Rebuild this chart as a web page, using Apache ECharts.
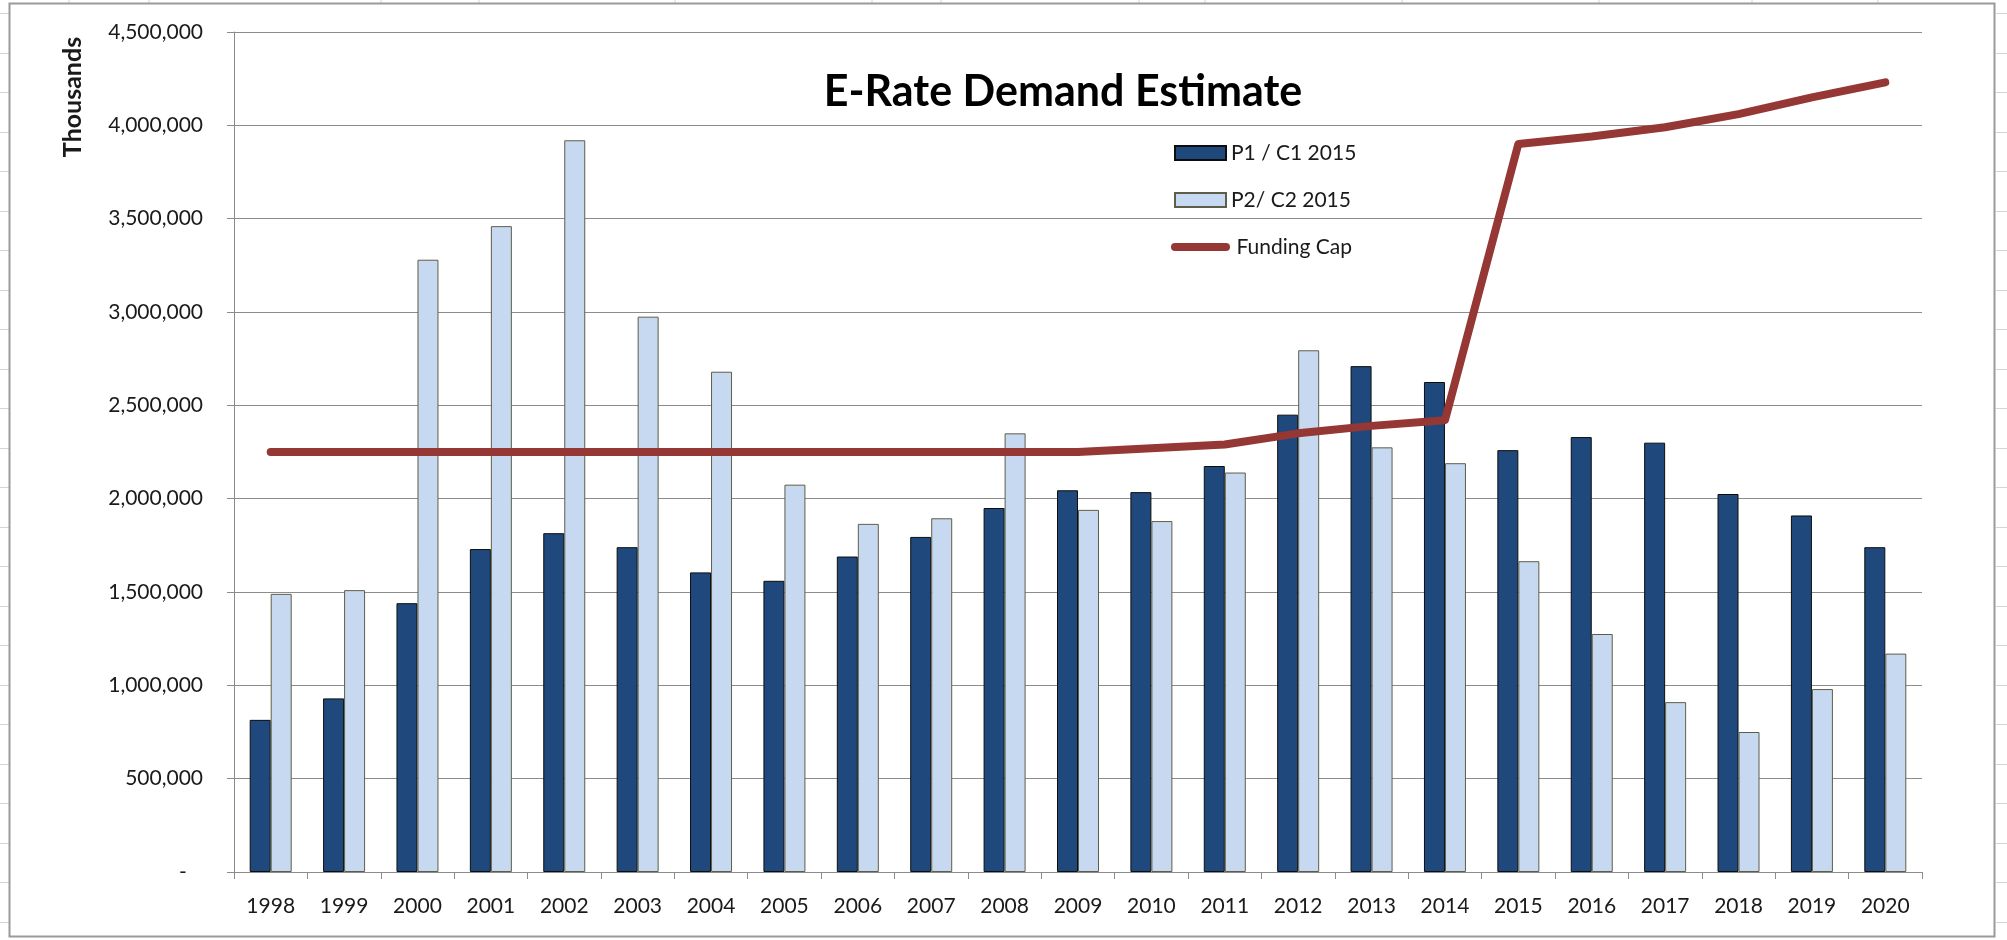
<!DOCTYPE html>
<html>
<head>
<meta charset="utf-8">
<title>E-Rate Demand Estimate</title>
<script src="https://cdn.jsdelivr.net/npm/echarts@6/dist/echarts.min.js"></script>
<style>
  html, body { margin: 0; padding: 0; background: #fff; }
  #chart { width: 2007px; height: 940px; }
</style>
</head>
<body>
<div id="chart"></div>
<script>
// years on the x axis
const years = ['1998', '1999', '2000', '2001', '2002', '2003', '2004', '2005', '2006', '2007', '2008', '2009',
  '2010', '2011', '2012', '2013', '2014', '2015', '2016', '2017', '2018', '2019', '2020'];

// P1 / C1 2015 demand (thousands)
const p1Values = [815000, 930000, 1440000, 1730000, 1815000, 1740000, 1605000, 1560000, 1690000, 1795000,
  1950000, 2045000, 2035000, 2175000, 2450000, 2710000, 2625000, 2260000, 2330000, 2300000, 2025000,
  1910000, 1740000];

// P2 / C2 2015 demand (thousands)
const p2Values = [1490000, 1510000, 3280000, 3460000, 3920000, 2975000, 2680000, 2075000, 1865000, 1895000,
  2350000, 1940000, 1880000, 2140000, 2795000, 2275000, 2190000, 1665000, 1275000, 910000, 750000,
  980000, 1170000];

// funding cap (thousands)
const capValues = [2250000, 2250000, 2250000, 2250000, 2250000, 2250000, 2250000, 2250000, 2250000, 2250000,
  2250000, 2250000, 2270000, 2290000, 2350000, 2390000, 2420000, 3900000, 3940000, 3990000, 4060000,
  4150000, 4230000];

const seriesNames = ['P1 / C1 2015', 'P2/ C2 2015', 'Funding Cap'];
const axisName = 'Thousands';

const FONT = 'Lato, "Liberation Sans", sans-serif';
const GRID_GRAY = '#8c8c8c';
const CAP_RED = '#953735';

// excel sheet cell lines peeking out around the chart frame
const colLines = [69, 149, 381, 479, 675, 872, 941, 1139, 1205, 1402, 1599, 1752, 1878];
const cellLines = [];
colLines.forEach(x => cellLines.push({
  type: 'line', silent: true,
  shape: { x1: x, y1: 0, x2: x, y2: 3 },
  style: { stroke: '#d4d4d4', lineWidth: 1 }
}));
for (let y = 13; y < 940; y += 39.5) {
  const yy = Math.round(y) + 0.5;
  cellLines.push({ type: 'line', silent: true, shape: { x1: 0, y1: yy, x2: 9, y2: yy }, style: { stroke: '#d4d4d4', lineWidth: 1 } });
  cellLines.push({ type: 'line', silent: true, shape: { x1: 1996, y1: yy, x2: 2007, y2: yy }, style: { stroke: '#d4d4d4', lineWidth: 1 } });
}

const chart = echarts.init(document.getElementById('chart'));

const option = {
  backgroundColor: '#fff',
  animation: false,
  textStyle: { fontFamily: FONT },
  title: {
    text: 'E-Rate Demand Estimate',
    left: 1058,
    top: 62,
    textAlign: 'center',
    textStyle: { fontFamily: FONT, fontSize: 43, fontWeight: 'bold', color: '#000', lineHeight: 50 }
  },
  legend: {
    data: [
      { name: seriesNames[0], icon: 'rect' },
      { name: seriesNames[1], icon: 'rect' },
      {
        name: seriesNames[2],
        itemStyle: { opacity: 0 },
        lineStyle: { width: 8, color: CAP_RED, cap: 'round' }
      }
    ],
    // the thick line icon has round caps, push its text a bit further out
    formatter: name => name === seriesNames[2] ? ' ' + name : name,
    orient: 'vertical',
    left: 1166,
    top: 136,
    itemWidth: 51,
    itemHeight: 14,
    itemGap: 23,
    textStyle: { fontFamily: FONT, fontSize: 21, color: '#1a1a1a', lineHeight: 24 }
  },
  grid: { left: 234, right: 85, top: 32, bottom: 68, containLabel: false },
  xAxis: {
    type: 'category',
    data: years,
    boundaryGap: true,
    axisLine: { lineStyle: { color: GRID_GRAY, width: 1 } },
    axisTick: { show: true, inside: false, length: 7, interval: 0, lineStyle: { color: GRID_GRAY } },
    axisLabel: { interval: 0, margin: 24, fontFamily: FONT, fontSize: 21, color: '#1a1a1a' },
    splitLine: { show: false }
  },
  yAxis: {
    type: 'value',
    min: 0,
    max: 4500000,
    interval: 500000,
    axisLine: { show: true, lineStyle: { color: GRID_GRAY, width: 1 } },
    axisTick: { show: true, inside: false, length: 7, lineStyle: { color: GRID_GRAY } },
    axisLabel: {
      margin: 31, fontFamily: FONT, fontSize: 21, color: '#1a1a1a',
      formatter: v => v === 0 ? '-   ' : v.toLocaleString('en-US')
    },
    splitLine: { show: true, lineStyle: { color: GRID_GRAY, width: 1 } }
  },
  series: [
    {
      name: seriesNames[0],
      type: 'bar',
      data: p1Values,
      barWidth: 21,
      barGap: '0%',
      itemStyle: { color: '#1f497d', borderColor: '#0d0d0d', borderWidth: 1 }
    },
    {
      name: seriesNames[1],
      type: 'bar',
      data: p2Values,
      barWidth: 21,
      barGap: '0%',
      itemStyle: { color: '#c6d9f1', borderColor: '#5e5e48', borderWidth: 1 }
    },
    {
      name: seriesNames[2],
      type: 'line',
      data: capValues,
      symbol: 'none',
      z: 5,
      lineStyle: { color: CAP_RED, width: 8, cap: 'round', join: 'round' },
      itemStyle: { color: CAP_RED }
    }
  ],
  graphic: [
    {
      type: 'rect', silent: true, z: 100,
      shape: { x: 9.5, y: 3.5, width: 1985, height: 933 },
      style: { fill: 'none', stroke: '#9a9a9a', lineWidth: 2 }
    },
    {
      // y axis title sits left of the tick labels, near the top
      type: 'text', silent: true,
      x: 73, y: 97, rotation: Math.PI / 2,
      style: {
        text: axisName, fill: '#1a1a1a',
        font: 'bold 25px ' + FONT,
        align: 'center', verticalAlign: 'middle'
      }
    }
  ].concat(cellLines)
};

chart.setOption(option);
</script>
</body>
</html>
